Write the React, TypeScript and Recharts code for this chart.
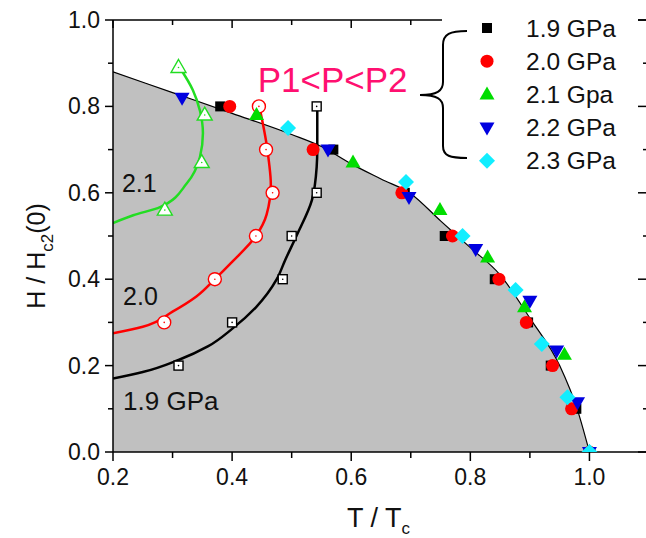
import React from 'react';
import { ComposedChart, Area, Line, Scatter, XAxis, YAxis, Legend, ReferenceDot } from 'recharts';

const FONT = '"Liberation Sans", Arial, Helvetica, sans-serif';
const PLOT_W = 536;
const PLOT_H = 432;

// upper critical field boundary (grey region)
const boundaryT = [0.2, 0.3, 0.4, 0.5, 0.55, 0.6, 0.65, 0.7, 0.75, 0.8, 0.85, 0.9, 0.95, 0.98, 1.0];
const boundaryH = [0.88, 0.832, 0.784, 0.735, 0.707, 0.667, 0.632, 0.598, 0.535, 0.473, 0.41, 0.31, 0.2, 0.097, 0.0];

// filled symbols, one array pair per pressure
const t19 = [0.38, 0.57, 0.69, 0.757, 0.841, 0.897, 0.935, 0.978, 1.0];
const h19 = [0.8, 0.7, 0.6, 0.5, 0.4, 0.3, 0.2, 0.1, 0.0];
const t20 = [0.396, 0.536, 0.685, 0.77, 0.848, 0.894, 0.938, 0.97, 1.0];
const h20 = [0.8, 0.7, 0.6, 0.5, 0.4, 0.3, 0.2, 0.1, 0.0];
const t21 = [0.441, 0.603, 0.749, 0.829, 0.891, 0.958, 1.0];
const h21 = [0.78, 0.67, 0.56, 0.45, 0.335, 0.225, 0.0];
const t22 = [0.316, 0.561, 0.697, 0.809, 0.9, 0.945, 0.98, 1.0];
const h22 = [0.82, 0.7, 0.59, 0.47, 0.35, 0.235, 0.115, 0.0];
const t23 = [0.494, 0.692, 0.787, 0.876, 0.92, 0.963, 1.0];
const h23 = [0.75, 0.625, 0.5, 0.375, 0.25, 0.127, 0.0];

// open symbols
const ot19 = [0.31, 0.4, 0.485, 0.5, 0.542, 0.542];
const oh19 = [0.2, 0.3, 0.4, 0.5, 0.6, 0.8];
const ot20 = [0.286, 0.371, 0.44, 0.468, 0.457, 0.445];
const oh20 = [0.3, 0.4, 0.5, 0.6, 0.7, 0.8];
const ot21 = [0.287, 0.349, 0.354, 0.31];
const oh21 = [0.56, 0.67, 0.78, 0.89];

// guide curves through the open symbols
const ct19 = [0.2, 0.25, 0.31, 0.36, 0.4, 0.44, 0.475, 0.489, 0.508, 0.534, 0.542, 0.543, 0.543];
const ch19 = [0.17, 0.185, 0.213, 0.245, 0.285, 0.335, 0.4, 0.444, 0.5, 0.583, 0.66, 0.7, 0.8];
const ct20 = [0.2, 0.25, 0.3, 0.34, 0.371, 0.4, 0.44, 0.458, 0.465, 0.462, 0.457, 0.448];
const ch20 = [0.275, 0.29, 0.325, 0.36, 0.4, 0.44, 0.5, 0.55, 0.62, 0.67, 0.72, 0.785];
const ct21 = [0.2, 0.234, 0.279, 0.324, 0.346, 0.351, 0.346, 0.334, 0.312];
const ch21 = [0.53, 0.548, 0.567, 0.622, 0.683, 0.738, 0.79, 0.838, 0.89];

const xTicks = [0.2, 0.3, 0.4, 0.5, 0.6, 0.7, 0.8, 0.9, 1.0, 1.1];
const yTicks = [0, 0.1, 0.2, 0.3, 0.4, 0.5, 0.6, 0.7, 0.8, 0.9, 1.0];

const legendLabels = ['1.9 GPa', '2.0 GPa', '2.1 Gpa', '2.2 GPa', '2.3 GPa'];
const legendKinds = ['square', 'circle', 'up', 'down', 'diamond'];
const legendColors = ['#000000', '#ff0000', '#00dd00', '#0000e0', '#11eeff'];

const zip = (ts: number[], hs: number[]) => ts.map((T, i) => ({ T, H: hs[i] }));
const isMajor = (v: number) => Math.round(v * 10) % 2 === 0;

function Sym({ kind, cx, cy, color, open }: any) {
  const fill = open ? '#fff' : color;
  const stroke = open ? color : 'none';
  const sw = open ? 1.4 : 0;
  let mark;
  if (kind === 'square') {
    const s = open ? 9 : 10;
    mark = <rect x={cx - s / 2} y={cy - s / 2} width={s} height={s} fill={fill} stroke={stroke} strokeWidth={sw} />;
  } else if (kind === 'circle') {
    mark = <circle cx={cx} cy={cy} r={6.5} fill={fill} stroke={stroke} strokeWidth={sw} />;
  } else if (kind === 'up') {
    mark = <polygon points={`${cx},${cy - 8} ${cx + 7.5},${cy + 5} ${cx - 7.5},${cy + 5}`} fill={fill} stroke={stroke} strokeWidth={sw} />;
  } else if (kind === 'down') {
    mark = <polygon points={`${cx - 7.5},${cy - 5} ${cx + 7.5},${cy - 5} ${cx},${cy + 8}`} fill={fill} stroke={stroke} strokeWidth={sw} />;
  } else {
    mark = <polygon points={`${cx},${cy - 8} ${cx + 8},${cy} ${cx},${cy + 8} ${cx - 8},${cy}`} fill={fill} stroke={stroke} strokeWidth={sw} />;
  }
  return (
    <g>
      {mark}
      {open && <circle cx={cx} cy={cy} r={0.8} fill={color} />}
    </g>
  );
}

const shapeOf = (kind: string, color: string, open = false) => (p: any) =>
  <Sym kind={kind} cx={p.cx} cy={p.cy} color={color} open={open} />;

// bottom tick: outward tick + label, plus the inward mirror tick on the top frame
const BottomTick = ({ x, y, payload }: any) => {
  const major = isMajor(payload.value);
  const top = y - PLOT_H;
  return (
    <g>
      <line x1={x} x2={x} y1={y} y2={y + (major ? 9 : 6)} stroke="#000" strokeWidth={1.5} />
      <line x1={x} x2={x} y1={top} y2={top + (major ? 8 : 5)} stroke="#000" strokeWidth={1.5} />
      {major && (
        <text x={x} y={y + 33} textAnchor="middle" fontSize={23} fontFamily={FONT} fill="#111">
          {payload.value.toFixed(1)}
        </text>
      )}
    </g>
  );
};

// left tick: outward tick + label, plus the inward mirror tick on the right frame
const LeftTick = ({ x, y, payload }: any) => {
  const major = isMajor(payload.value);
  const right = x + PLOT_W;
  return (
    <g>
      <line x1={x} x2={x - (major ? 8 : 5)} y1={y} y2={y} stroke="#000" strokeWidth={1.5} />
      <line x1={right} x2={right - (major ? 11 : 6)} y1={y} y2={y} stroke="#000" strokeWidth={1.5} />
      {major && (
        <text x={x - 13} y={y + 8} textAnchor="end" fontSize={23} fontFamily={FONT} fill="#111">
          {payload.value.toFixed(1)}
        </text>
      )}
    </g>
  );
};

const XTitle = ({ viewBox }: any) => (
  <text x={viewBox.x + 234} y={viewBox.y + 75} fontSize={27} fontFamily={FONT} fill="#111">
    T / T<tspan dy={7} fontSize={17}>c</tspan>
  </text>
);

const YTitle = ({ viewBox }: any) => {
  const x = viewBox.x - 8;
  const y = viewBox.y + 236;
  return (
    <text x={x} y={y} transform={`rotate(-90 ${x} ${y})`} textAnchor="middle" fontSize={25} fontFamily={FONT} fill="#111">
      H / H<tspan dy={8} fontSize={17}>c2</tspan>
      <tspan dy={-8}>(0)</tspan>
    </text>
  );
};

const textShape = (label: string, size: number, color = '#111') => (p: any) => (
  <text x={p.cx} y={p.cy} fontSize={size} fontFamily={FONT} fill={color}>
    {label}
  </text>
);

const LegendBox = () => (
  <div style={{ position: 'relative', width: 196, height: 178, fontFamily: FONT }}>
    <svg width={240} height={178} style={{ position: 'absolute', left: -30, top: 0, overflow: 'visible' }}>
      <path
        d="M55,31 C38,31 31,34 31,45 L31,82 C31,91 25,95 8,95 C25,95 31,99 31,108 L31,146 C31,156 38,158 55,158"
        fill="none"
        stroke="#000"
        strokeWidth={2}
      />
      {legendLabels.map((lab, i) => {
        const cy = 28 + i * 33.2;
        return (
          <g key={lab}>
            <Sym kind={legendKinds[i]} cx={75} cy={cy} color={legendColors[i]} />
            <text x={114} y={cy + 8.5} fontSize={24.5} fontFamily={FONT} fill="#111">
              {lab}
            </text>
          </g>
        );
      })}
    </svg>
  </div>
);

export default function App() {
  const boundary = zip(boundaryT, boundaryH);
  return (
    <div style={{ position: 'absolute', left: 0, top: 0, width: 646, height: 538, overflow: 'hidden', background: '#fff' }}>
      <ComposedChart width={660} height={538} data={boundary} margin={{ top: 20, right: 11, bottom: 46, left: 53 }}>
        <XAxis
          dataKey="T"
          type="number"
          domain={[0.2, 1.1]}
          allowDataOverflow
          ticks={xTicks}
          interval={0}
          height={40}
          tickSize={0}
          tickMargin={0}
          tickLine={false}
          tick={<BottomTick />}
          axisLine={{ stroke: '#000', strokeWidth: 1.5 }}
          label={<XTitle />}
        />
        <YAxis
          type="number"
          domain={[0, 1]}
          allowDataOverflow
          ticks={yTicks}
          interval={0}
          width={60}
          tickSize={0}
          tickMargin={0}
          tickLine={false}
          tick={<LeftTick />}
          axisLine={{ stroke: '#000', strokeWidth: 1.5 }}
          label={<YTitle />}
        />
        <Area
          type="monotone"
          dataKey="H"
          fill="#c0c0c0"
          fillOpacity={1}
          stroke="#000"
          strokeWidth={1.2}
          isAnimationActive={false}
          dot={false}
          activeDot={false}
        />
        <Line data={zip(ct19, ch19)} dataKey="H" type="monotoneY" stroke="#000" strokeWidth={2.5} dot={false} activeDot={false} isAnimationActive={false} />
        <Line data={zip(ct20, ch20)} dataKey="H" type="monotoneY" stroke="#ff0000" strokeWidth={2.5} dot={false} activeDot={false} isAnimationActive={false} />
        <Line data={zip(ct21, ch21)} dataKey="H" type="monotoneY" stroke="#22dd22" strokeWidth={2.5} dot={false} activeDot={false} isAnimationActive={false} />
        <Scatter data={zip(ot19, oh19)} dataKey="H" shape={shapeOf('square', '#000', true)} isAnimationActive={false} />
        <Scatter data={zip(ot20, oh20)} dataKey="H" shape={shapeOf('circle', '#ff0000', true)} isAnimationActive={false} />
        <Scatter data={zip(ot21, oh21)} dataKey="H" shape={shapeOf('up', '#22dd22', true)} isAnimationActive={false} />
        <Scatter data={zip(t19, h19)} dataKey="H" shape={shapeOf('square', legendColors[0])} isAnimationActive={false} />
        <Scatter data={zip(t20, h20)} dataKey="H" shape={shapeOf('circle', legendColors[1])} isAnimationActive={false} />
        <Scatter data={zip(t21, h21)} dataKey="H" shape={shapeOf('up', legendColors[2])} isAnimationActive={false} />
        <Scatter data={zip(t22, h22)} dataKey="H" shape={shapeOf('down', legendColors[3])} isAnimationActive={false} />
        <Scatter data={zip(t23, h23)} dataKey="H" shape={shapeOf('diamond', legendColors[4])} isAnimationActive={false} />
        {/* top frame line */}
        <ReferenceDot
          x={0.2}
          y={1}
          ifOverflow="visible"
          shape={(p: any) => <line x1={p.cx} x2={p.cx + PLOT_W} y1={p.cy} y2={p.cy} stroke="#000" strokeWidth={1.5} />}
        />
        <ReferenceDot x={0.215} y={0.602} shape={textShape('2.1', 25)} ifOverflow="visible" />
        <ReferenceDot x={0.217} y={0.34} shape={textShape('2.0', 25)} ifOverflow="visible" />
        <ReferenceDot x={0.217} y={0.097} shape={textShape('1.9 GPa', 26)} ifOverflow="visible" />
        <ReferenceDot x={0.443} y={0.833} shape={textShape('P1<P<P2', 35, '#ff1070')} ifOverflow="visible" />
        <Legend
          layout="horizontal"
          verticalAlign="middle"
          align="center"
          content={<LegendBox />}
          wrapperStyle={{ position: 'absolute', left: 442, top: 0, width: 196, height: 178, background: '#fff' }}
        />
      </ComposedChart>
    </div>
  );
}
